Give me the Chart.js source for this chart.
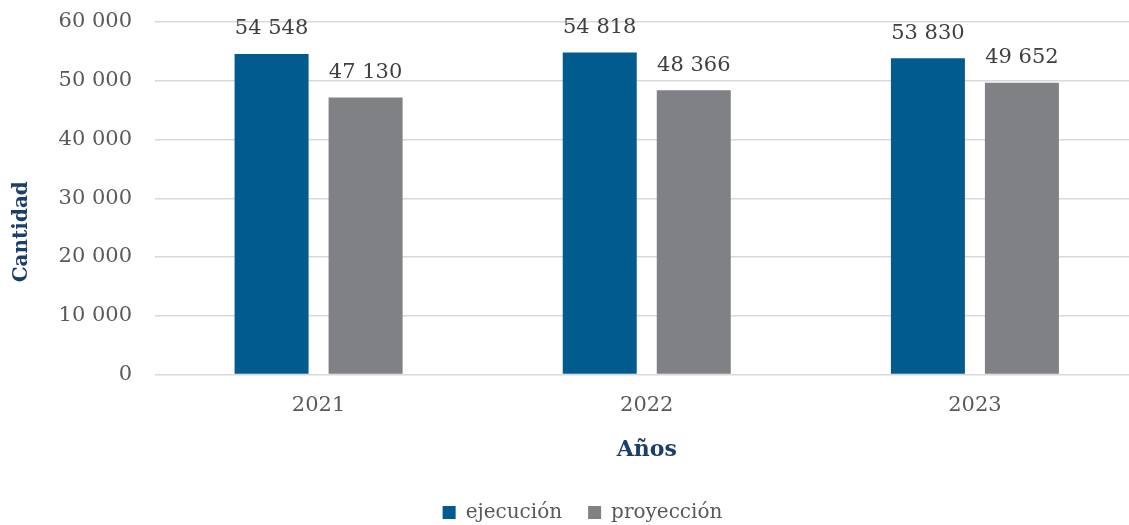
<!DOCTYPE html>
<html>
<head>
<meta charset="utf-8">
<script src="https://cdn.jsdelivr.net/npm/chart.js@4/dist/chart.umd.min.js"></script>
<style>
  html, body { margin: 0; padding: 0; overflow: hidden; background: #fff; }
  #wrap { width: 1139px; height: 525px; }
</style>
</head>
<body>
<div id="wrap"><canvas id="chart" width="1139" height="525"></canvas></div>
<script>
const years = ["2021", "2022", "2023"];
const ejecucion = [54548, 54818, 53830];
const proyeccion = [47130, 48366, 49652];
const yTickValues = [0, 10000, 20000, 30000, 40000, 50000, 60000];

const fmt = (n) => String(n).replace(/\B(?=(\d{3})+(?!\d))/g, " ");

Chart.defaults.font.family = "'DejaVu Serif', serif";

// numbers above each bar
const valueLabels = {
  id: "valueLabels",
  afterDatasetsDraw(chart) {
    const ctx = chart.ctx;
    ctx.save();
    ctx.font = "21px 'DejaVu Serif'";
    ctx.fillStyle = "#404040";
    ctx.textAlign = "center";
    ctx.textBaseline = "middle";
    chart.data.datasets.forEach((ds, i) => {
      chart.getDatasetMeta(i).data.forEach((bar, j) => {
        ctx.fillText(fmt(ds.data[j]), bar.x, bar.y - 25);
      });
    });
    ctx.restore();
  }
};

// fixed legend height + nudge it right like the original
const legendTweak = {
  id: "legendTweak",
  beforeInit(chart) {
    const lg = chart.legend;
    const fit = lg.fit;
    lg.fit = function () { fit.call(this); this.height = 48.5; };
  },
  afterLayout(chart) {
    chart.legend.left += 13;
    chart.legend.right += 13;
  }
};

new Chart(document.getElementById("chart"), {
  type: "bar",
  data: {
    labels: years,
    datasets: [
      { label: "ejecución", data: ejecucion, backgroundColor: "#025B8E" },
      { label: "proyección", data: proyeccion, backgroundColor: "#808185" }
    ]
  },
  options: {
    responsive: false,
    devicePixelRatio: 1,
    animation: false,
    categoryPercentage: 0.573,
    barPercentage: 0.787,
    layout: { padding: { top: 22, right: 0, left: 0, bottom: 0 } },
    plugins: {
      tooltip: { enabled: false },
      legend: {
        position: "bottom",
        labels: {
          color: "#595959",
          font: { size: 20 },
          boxWidth: 13,
          boxHeight: 13,
          padding: 26
        }
      }
    },
    scales: {
      x: {
        grid: { display: false },
        border: { display: false },
        ticks: { color: "#595959", font: { size: 21 }, padding: 10 },
        title: {
          display: true, text: "Años", color: "#1B3F6B",
          font: { size: 22, weight: "bold" }, padding: { top: 0, bottom: 13.5 }
        },
        afterFit(scale) { scale.height = 102; }
      },
      y: {
        min: 0, max: 60000,
        afterBuildTicks(scale) { scale.ticks = yTickValues.map(v => ({ value: v })); },
        grid: { color: "#D9D9D9", lineWidth: 1.5, drawTicks: false },
        border: { display: false },
        ticks: { color: "#595959", font: { size: 21 }, padding: 22.5, callback: (v) => fmt(v) },
        title: {
          // trailing spaces push the rotated title a bit lower, as in the original
          display: true, text: "Cantidad\u2003\u2003\u2003 ", color: "#1B3F6B",
          font: { size: 20, weight: "bold" }, padding: { top: 10, bottom: 0 }
        },
        afterFit(scale) {
          scale.width = 154.5;
          scale.paddingTop = 0;
          scale.paddingBottom = 0;
        }
      }
    }
  },
  plugins: [valueLabels, legendTweak]
});
</script>
</body>
</html>
